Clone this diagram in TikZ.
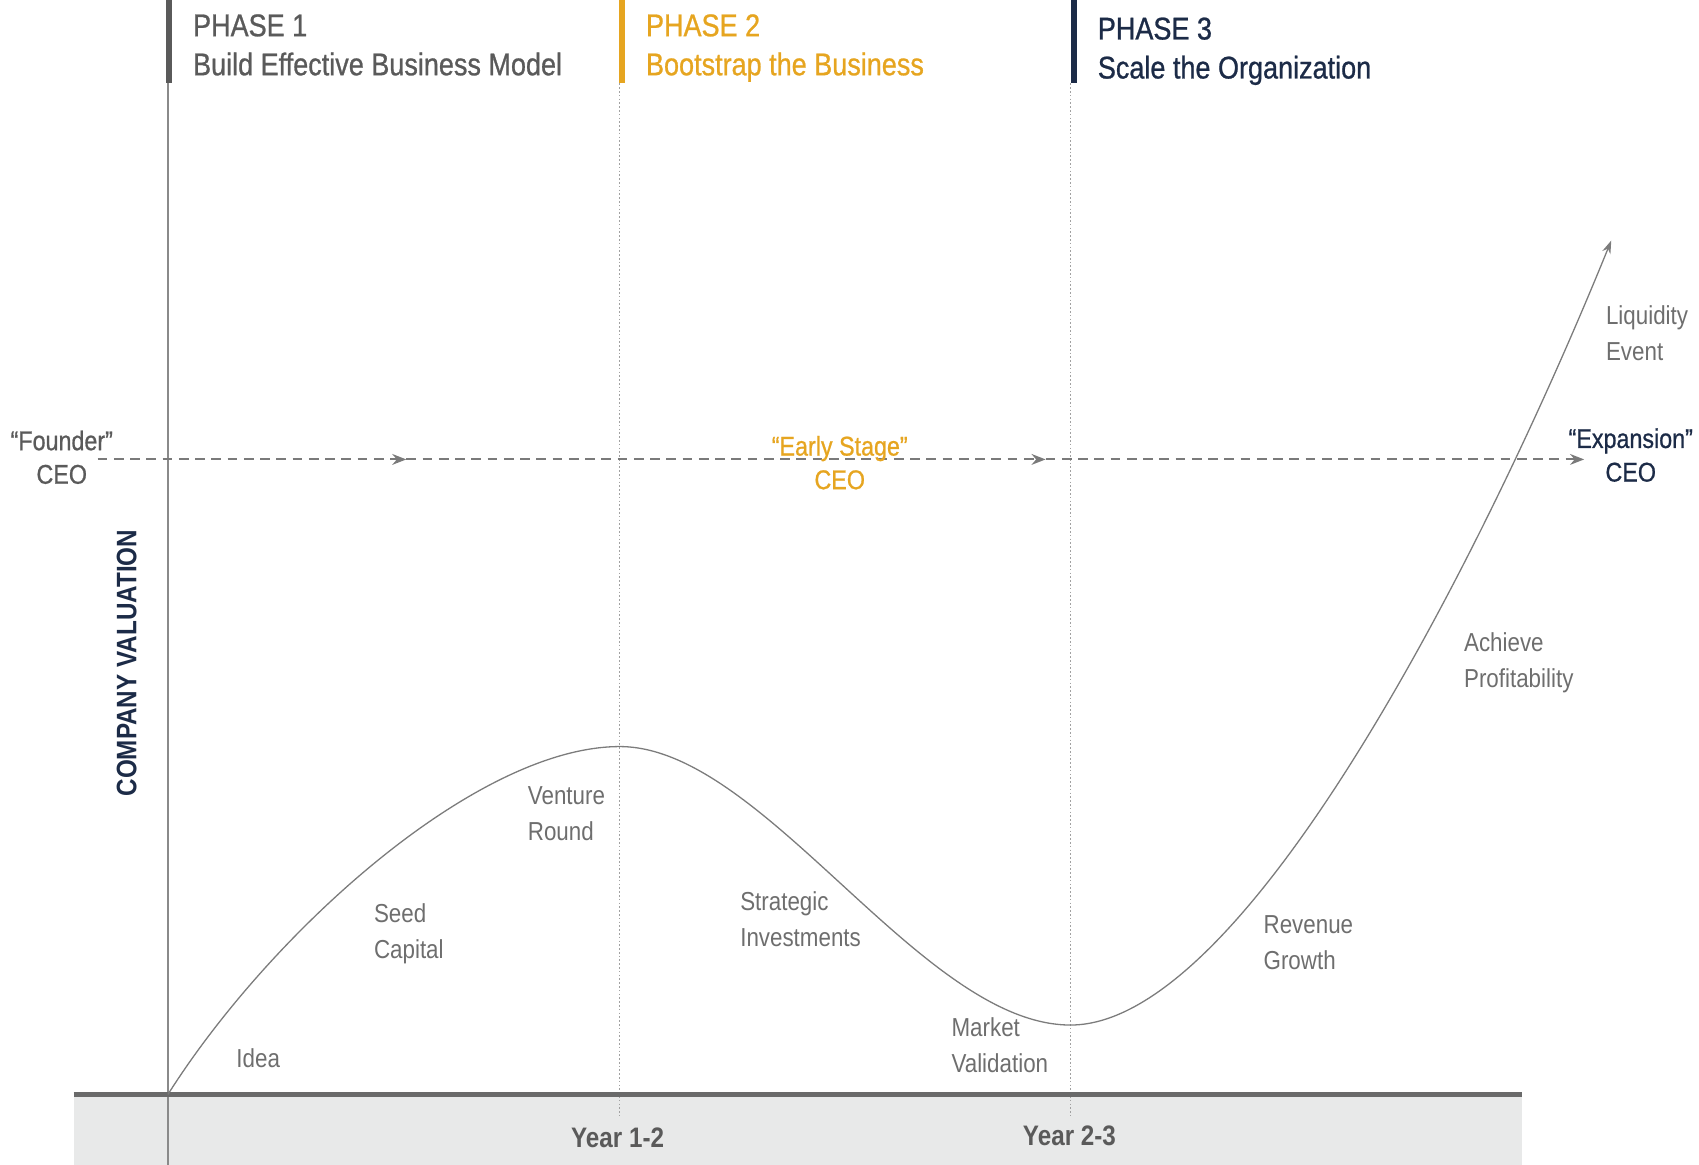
\documentclass[tikz,border=0pt]{standalone}
\usepackage{fontspec}
\setmainfont{Liberation Sans}[FakeStretch=0.86]
\newfontfamily\medfont{Liberation Sans}[FakeStretch=0.86, FakeBold=0.8, Ligatures=TeX]
\usetikzlibrary{arrows.meta}
\definecolor{phgray}{HTML}{5A5A5A}
\definecolor{phorange}{HTML}{E6A520}
\definecolor{phnavy}{HTML}{1C2B47}
\definecolor{lblgray}{HTML}{6E6E6E}
\definecolor{linegray}{HTML}{8A8A8A}
\definecolor{dashgray}{HTML}{7A7A7A}
\definecolor{bandgray}{HTML}{E8E9E9}
\definecolor{bargray}{HTML}{6A6A6A}
\tikzset{
  phasebar/.style={line width=5pt},
  phasetext/.style={anchor=north west, align=left, inner sep=0pt, font=\medfont\fontsize{29}{36}\selectfont},
  ceotext/.style={align=center, inner sep=0pt, font=\medfont\fontsize{25}{31}\selectfont},
  curvelbl/.style={anchor=north west, align=left, inner sep=0pt, text=lblgray, font=\fontsize{24}{33}\selectfont},
  yearlbl/.style={inner sep=0pt, text=phgray, font=\bfseries\fontsize{26}{30}\selectfont},
  dashline/.style={draw=dashgray, line width=1.8pt, dash pattern=on 9pt off 6pt},
  dottedline/.style={draw=linegray!80, line width=0.9pt, dash pattern=on 1.5pt off 2pt},
  tipstyle/.style={-{Stealth[length=13pt,width=10pt]}},
}
\begin{document}
\begin{tikzpicture}[x=1pt,y=-1pt]
\useasboundingbox (0,0) rectangle (1568,1075);
% bottom band
\fill[bandgray] (68,1011) rectangle (1405,1075);
% vertical guides
\coordinate (v1t) at (155,77); \coordinate (v1b) at (155,1075);
\coordinate (v2t) at (572,77); \coordinate (v2b) at (572,1030);
\coordinate (v3t) at (988,77); \coordinate (v3b) at (988,1030);
\draw[linegray, line width=1.1pt] (v1t) -- (v1b);
\draw[dottedline] (v2t) -- (v2b);
\draw[dottedline] (v3t) -- (v3b);
% phase bars
\coordinate (p1a) at (156,0); \coordinate (p1b) at (156,77);
\coordinate (p2a) at (574,0); \coordinate (p2b) at (574,77);
\coordinate (p3a) at (991,0); \coordinate (p3b) at (991,77);
\draw[phasebar, phgray] (p1a) -- (p1b);
\draw[phasebar, phorange] (p2a) -- (p2b);
\draw[phasebar, phnavy] (p3a) -- (p3b);
\node[phasetext, text=phgray] (ph1) at (178,13) {PHASE 1\\Build Effective Business Model};
\node[phasetext, text=phorange] (ph2) at (596,13) {PHASE 2\\Bootstrap the Business};
\node[phasetext, text=phnavy] (ph3) at (1013,16) {PHASE 3\\Scale the Organization};
% bottom bar
\coordinate (bl) at (68,1010); \coordinate (br) at (1405,1010);
\draw[bargray, line width=5pt] (bl) -- (br);
\node[yearlbl] (y12) at (570,1050) {Year 1-2};
\node[yearlbl] (y23) at (987,1048) {Year 2-3};
% dashed CEO line
\coordinate (d0) at (90,424);
\coordinate (d1) at (375,424);
\coordinate (d2) at (965,424);
\coordinate (d3) at (1462,424);
\draw[dashline, tipstyle] (d0) -- (d1);
\draw[dashline, tipstyle] (d1) -- (d2);
\draw[dashline, tipstyle] (d2) -- (d3);
\node[ceotext, text=phgray] (ceo1) at (57,422) {“Founder”\\CEO};
\node[ceotext, text=phorange] (ceo2) at (775,427) {“Early Stage”\\CEO};
\node[ceotext, text=phnavy] (ceo3) at (1505,420) {“Expansion”\\CEO};
% axis label
\node[rotate=90, text=phnavy, inner sep=0pt, font=\bfseries\fontsize{26}{30}\selectfont] (cv) at (117,612) {COMPANY VALUATION};
% valuation curve
\coordinate (c0) at (155,1010);
\coordinate (c1) at (572,689);
\coordinate (c2) at (988,946);
\coordinate (c3) at (1487,222);
\draw[linegray!90!black, line width=1.2pt, -{Stealth[length=12pt,width=8pt]}]
  (c0) .. controls (250,860) and (440,689) .. (c1)
       .. controls (705,689) and (850,946) .. (c2)
       .. controls (1150,946) and (1370,510) .. (c3);
% curve labels
\node[curvelbl] (l1) at (218,968) {Idea};
\node[curvelbl] (l2) at (345,834) {Seed\\Capital};
\node[curvelbl] (l3) at (487,726) {Venture\\Round};
\node[curvelbl] (l4) at (683,823) {Strategic\\Investments};
\node[curvelbl] (l5) at (878,939) {Market\\Validation};
\node[curvelbl] (l6) at (1166,845) {Revenue\\Growth};
\node[curvelbl] (l7) at (1351,584) {Achieve\\Profitability};
\node[curvelbl] (l8) at (1482,282) {Liquidity\\Event};
\end{tikzpicture}
\end{document}
